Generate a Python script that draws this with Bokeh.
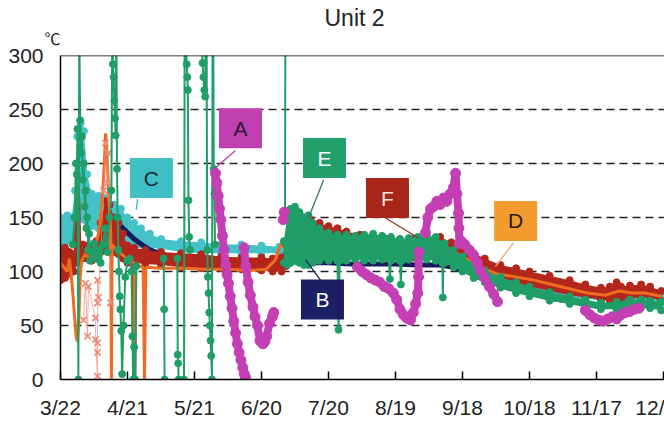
import math
from bokeh.plotting import figure
from bokeh.models import Range1d, FixedTicker, Span, Title
from bokeh.core.properties import value
from bokeh.embed import file_html
from bokeh.resources import INLINE

nan = float("nan")

# ---------------- axis data ----------------
X_TICKS = [0, 30, 60, 90, 120, 150, 180, 210, 240, 270]
# last label is cut off by the right edge in the source image
X_TICK_LABELS = ["3/22", "4/21", "5/21", "6/20", "7/20", "8/19", "9/18", "10/18", "11/17", "12/"]
Y_TICKS = [0, 50, 100, 150, 200, 250, 300]
GRID_TICKS = [50, 100, 150, 200, 250]
TITLE = "Unit 2"
UNIT = "℃"

# ---------------- series (day since 3/22, °C) ----------------
F_days = [0, 2, 4, 6, 8, 10, 12, 14, 16, 18, 20, 22, 24, 26, 28, 30, 33, 38, 45, 54, 63, 72, 81, 90, 95, 99,
          101, 103, 106, 109, 112, 116, 120, 124, 128, 134, 140, 146, 152, 158, 164, 170, 175, 180, 185, 190,
          197, 204, 210, 219, 228, 235, 242, 246, 249, 251, 255, 260, 264, 269]
F_lo = [92, 94, 98, 100, 108, 112, 112, 110, 112, 118, 120, 118, 118, 116, 112, 108, 108, 107, 106, 104, 103, 103, 102, 101, 100, 100,
        105, 112, 120, 122, 125, 122, 120, 120, 120, 118, 116, 115, 114, 113, 114, 115, 112, 108, 103, 99,
        94, 90, 86, 82, 78, 76, 74, 73, 74, 74, 75, 76, 76, 73]
F_hi = [120, 122, 118, 116, 124, 125, 124, 122, 128, 145, 165, 162, 150, 145, 135, 124, 122, 120, 118, 117, 116, 114, 113, 113, 112, 113,
        125, 135, 148, 150, 148, 145, 142, 140, 137, 134, 132, 130, 130, 130, 131, 132, 127, 122, 117, 112,
        106, 103, 100, 96, 92, 88, 85, 86, 90, 86, 87, 88, 86, 82]
F_spk_days = [6.8, 7.2, 7.6, 8.0, 8.4, nan, 32.6, 33.0, 33.4]
F_spk_vals = [110, 160, 178, 165, 120, nan, 110, 0, 108]

C_days = [0, 3, 5, 6.5, 7.5, 9, 10.5, 12, 14, 17, 20, 24, 27, 30, 33, 36, 40, 45, 54, 63, 72, 81, 90, 98,
          101, 110, 130, 160, 175, 180, 190, 200, 210, 220, 228, 235, 242, 249, 255, 262, 269]
C_lo = [126, 128, 130, 135, 140, 150, 148, 145, 142, 140, 137, 134, 132, 129, 127, 125, 122, 121, 118, 117, 117, 117, 117, 117,
        115, 115, 114, 113, 110, 105, 95, 88, 82, 78, 76, 75, 73, 73, 73, 72, 70]
C_hi = [150, 152, 150, 175, 225, 237, 230, 190, 172, 170, 168, 162, 158, 150, 145, 140, 135, 130, 128, 127, 125, 125, 124, 123,
        122, 130, 130, 130, 122, 116, 106, 99, 93, 89, 86, 85, 83, 82, 82, 81, 79]

B_days = [0, 5, 10, 15, 20, 25, 27, 29, 31, 33, 35, 37, 40, 44, 50, 60, 90, 100, 104, 110, 120, 130, 140, 150,
          160, 170, 176, 182, 190, 200, 210, 220, 230, 240, 250, 260, 269]
B_vals = [104, 108, 115, 122, 130, 140, 142, 138, 134, 130, 127, 124, 120, 117, 113, 110, 110, 110, 109, 108, 108, 107, 107, 107,
          106, 106, 104, 100, 92, 85, 80, 75, 72, 68, 68, 69, 67]

D_days = [0, 1.5, 3, 4, 5, 5.7, 6.3, 7, 7.6, 8.2, 8.8, 9.5, 11, 13, 15, 17, 18.5, 19.5, 20.2, 20.8, 21.4, 22, 22.5,
          22.8, 23.1, 25, 28, 31, 33, 33.3, 33.6, 37, 37.6, 38.2, 45, 55, 65, 75, 85, 92, 96, 98, 100, 103, 108,
          115, 125, 135, 145, 155, 165, 172, 180, 188, 195, 204, 212, 220, 228, 236, 244, 250, 256, 262, 269]
D_vals = [108, 104, 100, 112, 92, 75, 58, 40, 35, 55, 95, 110, 116, 112, 118, 135, 160, 195, 228, 210, 180, 155, 135,
          0, 125, 120, 115, 110, 108, 0, 106, 104, 0, 104, 103, 103, 102, 102, 101, 102, 110, 122, 130, 128, 132,
          128, 126, 124, 122, 122, 124, 122, 114, 104, 98, 95, 92, 88, 84, 80, 78, 82, 80, 80, 77]

X_days = [10.3, 11.2, 12.1, 12.5, 15.7, 15.7, 16.6, 16.6, 16.6, 16.6, 16.6, 17.0, 19.3, 20.1, 21.0, 21.5, 22.4]
X_vals = [55, 89, 40, 86, 57, 37, 3, 25, 34, 71, 92, 76, 175, 219, 182, 210, 71]

E_days = [100, 101.5, 103, 105, 107, 109, 111, 113, 116, 120, 124, 128, 132, 136, 140, 144, 148, 152, 156, 160,
          164, 168, 172, 176, 180, 185, 190, 197, 204, 210, 219, 228, 235, 242, 249, 255, 260, 264, 269]
E_lo = [108, 106, 108, 110, 108, 106, 106, 108, 110, 110, 110, 110, 111, 110, 110, 111, 110, 110, 111, 111,
        111, 110, 108, 104, 100, 94, 90, 85, 80, 77, 73, 70, 67, 65, 65, 66, 67, 66, 64]
E_hi = [128, 150, 158, 160, 155, 150, 152, 145, 140, 136, 134, 134, 133, 134, 135, 133, 132, 130, 131, 132,
        133, 132, 126, 120, 114, 107, 101, 95, 90, 86, 81, 77, 74, 71, 72, 74, 74, 73, 72]
E_pt_days = [5.5, 6.3, 6.9, 7.0, 7.3, 7.6, 8.0, 8.4, 8.8, 9.2, 9.6, 10.0, 10.4, 10.8, 11.2, 11.6, 12.0, 12.4, 12.8, 13.2,
             14, 15, 16, 17, 18, 19, 20, 21, 22, 22.8, 23.2, 23.5, 23.8, 24.1, 24.4, 24.7, 25.0, 25.3, 25.6, 25.9,
             26.2, 26.5, 26.8, 27.2, 27.6, 28.2, 29, 30, 31, 31.8, 32.2, 32.5, 33, 33.4, 34, nan,
             46.2, 46.4, 46.6, nan, 52.3, 52.5, 52.7, 52.9, nan, 55.3, 55.6, nan,
             56.2, 56.5, 56.8, 57.0, 57.3, 57.6, 58, nan,
             63.2, 63.6, 64, 64.4, 64.8, 65.0, nan,
             65.4, 65.7, 66, 66.3, 66.6, 66.9, 67.2, 67.5, 67.8, 68.1, nan,
             68.4, 68.6, 68.9, 69.2, nan, 100.5, 100.7, nan,
             124, 124.5, 125, nan, 147, 147.5, 148, nan, 152, 152.4, 152.8, nan, 171, 171.2, 171.4]
E_pt_vals = [125, 150, 200, 150, 190, 232, 0, 330, 240, 210, 225, 185, 200, 160, 175, 140, 150, 120, 135, 110,
             118, 126, 112, 120, 108, 125, 140, 118, 150, 175, 330, 292, 280, 258, 242, 226, 330, 195, 150, 120,
             100, 77, 65, 45, 5, 50, 95, 110, 112, 100, 40, 0, 30, 0, 105, nan,
             112, 65, 0, nan, 112, 23, 15, 0, nan, 0, 330, nan,
             330, 292, 280, 268, 166, 132, 120, nan,
             330, 293, 280, 268, 262, 330, nan,
             330, 120, 95, 80, 62, 50, 36, 22, 0, 330, nan,
             330, 195, 172, 125, nan, 150, 330, nan,
             110, 46, 110, nan, 112, 93, 112, nan, 110, 88, 110, nan, 108, 76, 108]

A_days = [69.4, 70, 70.6, 71.2, 71.8, 72.5, 73.2, 74, 74.6, 75.2, 76, 76.8, 77.6, 78.4, 79.2, 80, 80.8, 81.6, 82.3, 82.8, nan,
          82.2, 83, 84, 85, 86.2, 87.1, 88.2, 89.3, 90.6, 91.5, 92.3, 93.6, 94.9, 95.5, nan,
          99.7, 100.2, nan,
          133, 135, 137, 139, 141, 143, 145, 147, 149, 150.5, 152, 153.5, 155, 156.7, 158, 159, 160, 160.3, 160.5, nan,
          163.4, 164.5, 165.7, 167, 168.5, 170, 171.5, 173, 174.5, 176, 176.9, 177.5, 178.2, 178.4, 178.6, 179.5,
          181, 183, 185, 186.7, 188, 190, 192, 194, 195.7, nan,
          235, 237, 239, 241, 243, 245, 247, 249, 251, 253, 255, 257, 259]
A_vals = [191, 182, 170, 158, 148, 133, 120, 106, 97, 89, 77, 66, 54, 43, 33, 25, 18, 11, 5, 2, nan,
          122, 105, 90, 78, 67, 58, 50, 36, 33, 35, 40, 52, 58, 62, nan,
          148, 155, nan,
          104, 100, 97, 94, 92, 90, 86, 84, 80, 74, 65, 60, 57, 55, 62, 70, 80, 95, 118, nan,
          136, 150, 158, 160, 165, 162, 168, 165, 172, 178, 191, 172, 154, 140, 126, 128,
          125, 120, 115, 108, 101, 94, 86, 79, 72, nan,
          64, 60, 57, 55, 54, 56, 58, 56, 60, 62, 63, 65, 66]

# ---------------- callout labels ----------------
LBL_TEXT = ["A", "B", "C", "D", "E", "F"]
LBL_DAY = [80.6, 117.3, 40.7, 203.8, 118.2, 146.4]
LBL_VAL = [232.6, 74, 186.5, 146.8, 205, 168]
LBL_FILL = ["#c13fb1", "#1b2064", "#3fbfc5", "#f39b2d", "#22a06b", "#a82519"]
LBL_TXT_COLOR = ["#2a1830", "#ffffff", "#1a2a30", "#2a1a10", "#ffffff", "#f6e6dc"]
LEAD_X0 = [78.4, 116.4, 34.5, 202.8, 117.8, 145.5]
LEAD_Y0 = [212, 92, 167, 126.5, 184.6, 149.5]
LEAD_X1 = [69.4, 109.7, 33.9, 194.8, 111.0, 160.3]
LEAD_Y1 = [196, 111, 157, 104.6, 149.5, 131]
LEAD_COLOR = ["#c13fb1", "#1b2064", "#3fbfc5", "#e8a878", "#2e6e5e", "#8a3a20"]

RED = "#b3261b"
ORANGE = "#ef6b1f"
GREEN = "#1f9e68"
CYAN = "#45c1c9"
NAVY = "#151b5c"
MAGENTA = "#c43eb4"
PINK = "#f08c7c"

FONT = "Liberation Sans"

p = figure(width=664, height=421, output_backend="svg", toolbar_location=None,
           x_range=Range1d(0, 270.45), y_range=Range1d(0, 300),
           min_border_left=60, min_border_right=0, min_border_top=55, min_border_bottom=41)
p.outline_line_color = None
p.background_fill_color = "white"
p.border_fill_color = "white"

# unit label, nearest to the frame
p.add_layout(Title(text=UNIT, align="left", offset=-16, standoff=12, text_font="Noto Sans CJK JP",
                   text_font_size="16px", text_font_style="normal", text_color="#222222"), "above")

p.title.text = TITLE
p.title.align = "left"
p.title.offset = 264
p.title.standoff = -26
p.title.text_font = FONT
p.title.text_font_size = "23px"
p.title.text_font_style = "normal"
p.title.text_color = "#222222"

# axes
p.xaxis.ticker = FixedTicker(ticks=X_TICKS)
p.xaxis.major_label_overrides = {t: l for t, l in zip(X_TICKS, X_TICK_LABELS)}
p.xaxis.major_tick_in = 8
p.xaxis.major_tick_out = 0
p.xaxis.major_label_standoff = 16
p.yaxis.ticker = FixedTicker(ticks=Y_TICKS)
p.yaxis.major_tick_in = 0
p.yaxis.major_tick_out = 0
p.yaxis.major_label_standoff = 17
for ax in (p.xaxis, p.yaxis):
    ax.minor_tick_line_color = None
    ax.axis_line_color = "black"
    ax.axis_line_width = 1.5
    ax.major_tick_line_color = "black"
    ax.major_tick_line_width = 1.5
    ax.major_label_text_font = FONT
    ax.major_label_text_font_size = "21px"
    ax.major_label_text_color = "#222222"

p.xgrid.grid_line_color = None
p.ygrid.ticker = FixedTicker(ticks=GRID_TICKS)
p.ygrid.grid_line_color = "#222222"
p.ygrid.grid_line_width = 1.5
p.ygrid.grid_line_dash = "8 5"

p.add_layout(Span(location=300, dimension="width", line_color="black", line_width=1.5))


def band(days, lo, hi, color, size=7):
    p.varea(x=days, y1=lo, y2=hi, fill_color=color)
    p.scatter(days, lo, size=size, color=color)
    p.scatter(days, hi, size=size, color=color)


band(C_days, C_lo, C_hi, CYAN)
p.line(B_days, B_vals, line_color=NAVY, line_width=5)
band(F_days, F_lo, F_hi, RED)
p.line(F_spk_days, F_spk_vals, line_color=RED, line_width=4)
p.line(D_days, D_vals, line_color=ORANGE, line_width=3)
p.line(X_days, X_vals, line_color=PINK, line_width=1, line_alpha=0.7)
p.scatter(X_days, X_vals, marker="x", size=9, line_color=PINK, line_width=1.8)
band(E_days, E_lo, E_hi, GREEN)
p.line(E_pt_days, E_pt_vals, line_color=GREEN, line_width=2)
p.scatter([d for d, v in zip(E_pt_days, E_pt_vals) if not math.isnan(d)],
          [v for d, v in zip(E_pt_days, E_pt_vals) if not math.isnan(d)],
          size=7, color=GREEN)
p.line(A_days, A_vals, line_color=MAGENTA, line_width=8)
p.scatter([d for d in A_days if not math.isnan(d)], [v for v in A_vals if not math.isnan(v)],
          size=10, color=MAGENTA)

# callouts
p.segment(x0=LEAD_X0, y0=LEAD_Y0, x1=LEAD_X1, y1=LEAD_Y1, line_color=LEAD_COLOR, line_width=1.3)
p.rect(x=LBL_DAY, y=LBL_VAL, width=43, height=40, width_units="screen", height_units="screen",
       fill_color=LBL_FILL, line_color=None)
p.text(x=LBL_DAY, y=LBL_VAL, text=LBL_TEXT, text_align="center", text_baseline="middle",
       text_font=value(FONT), text_font_size="21px", text_color=LBL_TXT_COLOR)

open("out.html", "w").write(file_html(p, INLINE))
